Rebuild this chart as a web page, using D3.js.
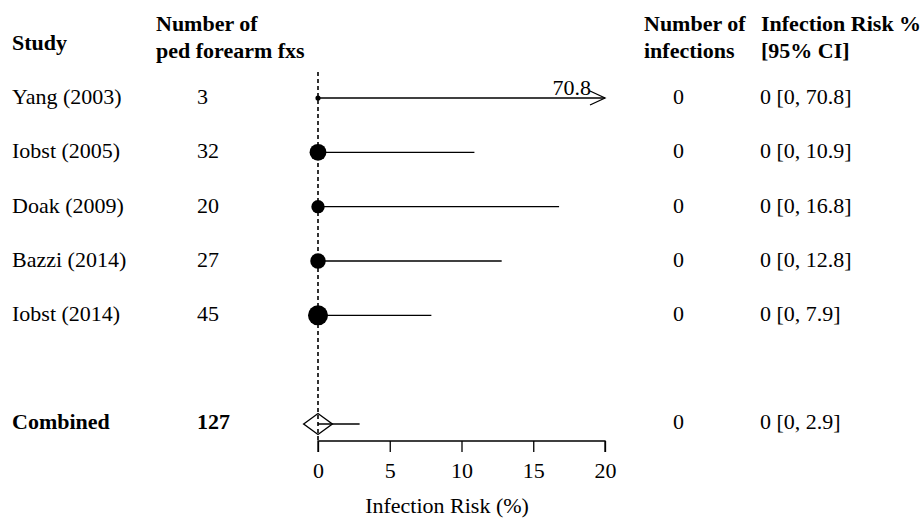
<!DOCTYPE html>
<html>
<head>
<meta charset="utf-8">
<script src="https://cdn.jsdelivr.net/npm/d3@7"></script>
<style>
  body { margin: 0; background: #fff; }
  svg text { font-family: "Liberation Serif", "DejaVu Serif", serif; fill: #000; }
</style>
</head>
<body>
<svg width="922" height="519"></svg>
<script>
// study rows
var studies = ["Yang (2003)", "Iobst (2005)", "Doak (2009)", "Bazzi (2014)", "Iobst (2014)"];
var fractures = [3, 32, 20, 27, 45];
var infections = [0, 0, 0, 0, 0];
var risk = [0, 0, 0, 0, 0];
var lower = [0, 0, 0, 0, 0];
var upper = [70.8, 10.9, 16.8, 12.8, 7.9];
var ciLabels = ["0 [0, 70.8]", "0 [0, 10.9]", "0 [0, 16.8]", "0 [0, 12.8]", "0 [0, 7.9]"];

// combined estimate
var combinedName = "Combined";
var combinedN = 127;
var combinedInf = 0;
var combinedRisk = 0;
var combinedLower = 0;
var combinedUpper = 2.9;
var combinedDiamond = [-1, 1];
var combinedLabel = "0 [0, 2.9]";

var xTicks = [0, 5, 10, 15, 20];
var axisTitle = "Infection Risk (%)";

var svg = d3.select("svg");
var fs = 22;

var x = d3.scaleLinear().domain([0, 20]).range([318, 605]);
var y = d3.scaleLinear().domain([0, 6]).range([98, 424]);
var r = d3.scaleSqrt().domain([0, 45]).range([0, 10]);

var colStudy = 12, colN = 197, colInf = 673, colCI = 760;

// headers
var hdr = svg.append("g").style("font-weight", "bold").style("font-size", fs + "px");
hdr.append("text").attr("x", colStudy).attr("y", 50).text("Study");
hdr.append("text").attr("x", 156).attr("y", 31).text("Number of");
hdr.append("text").attr("x", 156).attr("y", 58).text("ped forearm fxs");
hdr.append("text").attr("x", 644).attr("y", 31).text("Number of");
hdr.append("text").attr("x", 644).attr("y", 58).text("infections");
hdr.append("text").attr("x", 761).attr("y", 31).text("Infection Risk %");
hdr.append("text").attr("x", 761).attr("y", 58).text("[95% CI]");

// reference line at 0
svg.append("line")
  .attr("x1", x(0)).attr("x2", x(0))
  .attr("y1", 72).attr("y2", 441)
  .attr("stroke", "#000").attr("stroke-width", 1.6)
  .attr("stroke-dasharray", "4,3");

var rows = svg.selectAll("g.row").data(studies).enter().append("g").attr("class", "row")
  .style("font-size", fs + "px");

rows.append("text").attr("x", colStudy).attr("y", function(d, i) { return y(i) + 6; }).text(function(d) { return d; });
rows.append("text").attr("x", colN).attr("y", function(d, i) { return y(i) + 6; }).text(function(d, i) { return fractures[i]; });
rows.append("text").attr("x", colInf).attr("y", function(d, i) { return y(i) + 6; }).text(function(d, i) { return infections[i]; });
rows.append("text").attr("x", colCI).attr("y", function(d, i) { return y(i) + 6; }).text(function(d, i) { return ciLabels[i]; });

rows.append("line")
  .attr("x1", function(d, i) { return x(lower[i]); })
  .attr("x2", function(d, i) { return x(Math.min(upper[i], 20)); })
  .attr("y1", function(d, i) { return y(i); })
  .attr("y2", function(d, i) { return y(i); })
  .attr("stroke", "#000").attr("stroke-width", 1.3);

rows.append("circle")
  .attr("cx", function(d, i) { return x(risk[i]); })
  .attr("cy", function(d, i) { return y(i); })
  .attr("r", function(d, i) { return r(fractures[i]); })
  .attr("fill", "#000");

// truncated CI arrows
upper.forEach(function(u, i) {
  if (u <= 20) return;
  var xe = x(20), yy = y(i);
  svg.append("path")
    .attr("d", "M" + (xe - 15) + "," + (yy - 7) + "L" + xe + "," + yy + "L" + (xe - 15) + "," + (yy + 7))
    .attr("fill", "none").attr("stroke", "#000").attr("stroke-width", 1.3);
  svg.append("text").attr("x", xe - 14).attr("y", yy - 3)
    .attr("text-anchor", "end").style("font-size", fs + "px").text(u);
});

// combined row
var yc = y(6);
var comb = svg.append("g").style("font-size", fs + "px");
comb.append("text").attr("x", colStudy).attr("y", yc + 5).style("font-weight", "bold").text(combinedName);
comb.append("text").attr("x", colN).attr("y", yc + 5).style("font-weight", "bold").text(combinedN);
comb.append("text").attr("x", colInf).attr("y", yc + 5).text(combinedInf);
comb.append("text").attr("x", colCI).attr("y", yc + 5).text(combinedLabel);
comb.append("line")
  .attr("x1", x(combinedLower)).attr("x2", x(combinedUpper))
  .attr("y1", yc).attr("y2", yc)
  .attr("stroke", "#000").attr("stroke-width", 1.3);
comb.append("path")
  .attr("d", "M" + x(combinedDiamond[0]) + "," + yc + "L" + x(combinedRisk) + "," + (yc - 10.5) +
             "L" + x(combinedDiamond[1]) + "," + yc + "L" + x(combinedRisk) + "," + (yc + 10.5) + "Z")
  .attr("fill", "none").attr("stroke", "#000").attr("stroke-width", 1.4);

// x axis
var axis = svg.append("g").attr("transform", "translate(0,441)")
  .call(d3.axisBottom(x).tickValues(xTicks).tickSize(11).tickPadding(10));
axis.selectAll("path, line").attr("stroke", "#000").attr("stroke-width", 1.3);
axis.select(".domain").attr("d", "M" + x(0) + ",11V0H" + x(20) + "V11");
axis.selectAll("text").style("font-family", "Liberation Serif").style("font-size", fs + "px").attr("fill", "#000");

svg.append("text").attr("x", 447).attr("y", 513)
  .attr("text-anchor", "middle").style("font-size", fs + "px").text(axisTitle);
</script>
</body>
</html>
